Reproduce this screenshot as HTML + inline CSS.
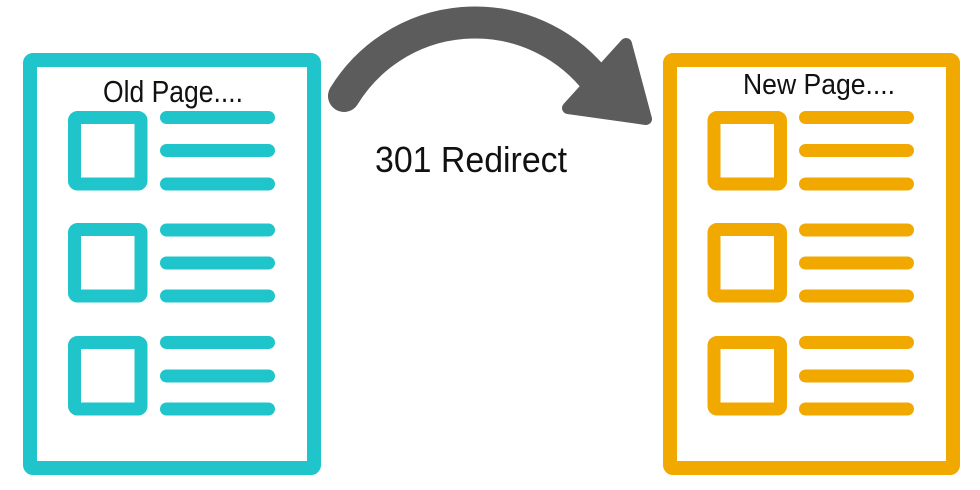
<!DOCTYPE html>
<html>
<head>
<meta charset="utf-8">
<style>
  html, body { margin: 0; padding: 0; background: #ffffff; }
  body { width: 980px; height: 490px; overflow: hidden; }
  svg { display: block; }
  text { font-family: "Liberation Sans", "DejaVu Sans", sans-serif; fill: #111; }
</style>
</head>
<body>
<svg width="980" height="490" viewBox="0 0 980 490" xmlns="http://www.w3.org/2000/svg">
  <rect x="0" y="0" width="980" height="490" fill="#ffffff"/>

  <!-- Old page (teal) -->
  <g stroke="#1fc5cb" fill="none">
    <rect x="30" y="60" width="284" height="408" rx="3" stroke-width="14"/>
    <rect x="74.5" y="117.5" width="66.5" height="66.5" rx="3" stroke-width="13"/>
    <rect x="74.5" y="229.5" width="66.5" height="66.5" rx="3" stroke-width="13"/>
    <rect x="74.5" y="342.5" width="66.5" height="66.5" rx="3" stroke-width="13"/>
    <g stroke-width="13" stroke-linecap="round">
      <line x1="166.5" y1="117.5" x2="268.5" y2="117.5"/>
      <line x1="166.5" y1="150.5" x2="268.5" y2="150.5"/>
      <line x1="166.5" y1="184" x2="268.5" y2="184"/>
      <line x1="166.5" y1="230" x2="268.5" y2="230"/>
      <line x1="166.5" y1="263" x2="268.5" y2="263"/>
      <line x1="166.5" y1="296" x2="268.5" y2="296"/>
      <line x1="166.5" y1="342.5" x2="268.5" y2="342.5"/>
      <line x1="166.5" y1="376" x2="268.5" y2="376"/>
      <line x1="166.5" y1="409" x2="268.5" y2="409"/>
    </g>
  </g>
  <text x="103" y="102" font-size="31" textLength="140" lengthAdjust="spacingAndGlyphs">Old Page....</text>

  <!-- New page (orange) -->
  <g stroke="#f1a900" fill="none">
    <rect x="670" y="60" width="283" height="408" rx="3" stroke-width="14"/>
    <rect x="714" y="117.5" width="66.5" height="66.5" rx="3" stroke-width="13"/>
    <rect x="714" y="229.5" width="66.5" height="66.5" rx="3" stroke-width="13"/>
    <rect x="714" y="342.5" width="66.5" height="66.5" rx="3" stroke-width="13"/>
    <g stroke-width="13" stroke-linecap="round">
      <line x1="805.5" y1="117.5" x2="907.5" y2="117.5"/>
      <line x1="805.5" y1="150.5" x2="907.5" y2="150.5"/>
      <line x1="805.5" y1="184" x2="907.5" y2="184"/>
      <line x1="805.5" y1="230" x2="907.5" y2="230"/>
      <line x1="805.5" y1="263" x2="907.5" y2="263"/>
      <line x1="805.5" y1="296" x2="907.5" y2="296"/>
      <line x1="805.5" y1="342.5" x2="907.5" y2="342.5"/>
      <line x1="805.5" y1="376" x2="907.5" y2="376"/>
      <line x1="805.5" y1="409" x2="907.5" y2="409"/>
    </g>
  </g>
  <text x="743" y="94" font-size="29" textLength="152" lengthAdjust="spacingAndGlyphs">New Page....</text>

  <!-- Curved arrow -->
  <path d="M344,96 A154,154 0 0 1 592,76" fill="none" stroke="#5c5c5c" stroke-width="32" stroke-linecap="round"/>
  <polygon points="626,44 568,108 646,119" fill="#5c5c5c" stroke="#5c5c5c" stroke-width="12" stroke-linejoin="round"/>

  <!-- Label -->
  <text x="375" y="172" font-size="36" textLength="192" lengthAdjust="spacingAndGlyphs">301 Redirect</text>
</svg>
</body>
</html>
